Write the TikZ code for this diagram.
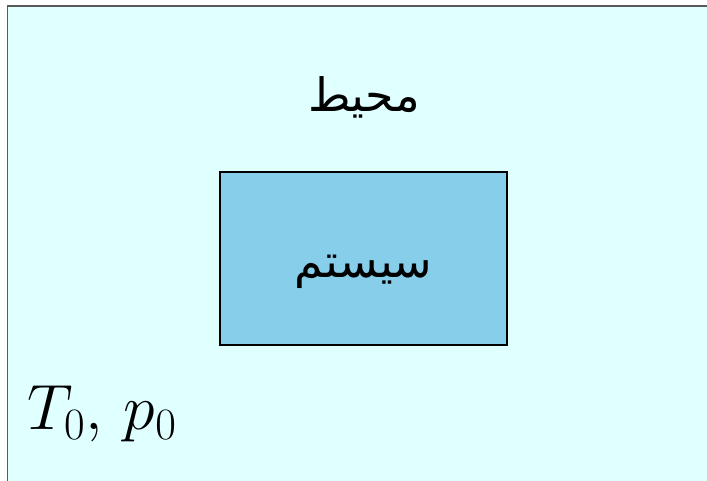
\documentclass[tikz,border=0pt]{standalone}
\usepackage{fix-cm}
\usepackage{amsmath,amssymb}
\usepackage{fontspec}
\newfontfamily\arabicfont[Script=Arabic]{DejaVu Sans}
\TeXXeTstate=1
\usepackage{tikz}
\usetikzlibrary{positioning}
\definecolor{envcol}{HTML}{E0FFFF}
\definecolor{syscol}{HTML}{87CEEB}

\begin{document}
\begin{tikzpicture}[
            x=1pt, y=-1pt,
            envbox/.style={draw=black!65, fill=envcol, line width=1.2pt},
            sysbox/.style={draw=black, fill=syscol, line width=1.6pt},
            fa/.style={font=\arabicfont\fontsize{46}{50}\selectfont, inner sep=0pt},
            lbl/.style={font=\fontsize{64}{68}\selectfont, inner sep=0pt}
        ]
        \useasboundingbox (0,0) rectangle (707,480);
        % Surroundings
        \filldraw[envbox] (7.5,6) rectangle (740,520);
        \node[fa] (env) at (364,97) {\beginR محیط\endR};

        % System
        \node[sysbox, minimum width=287pt, minimum height=173pt] (sys) at (363.5,258.5) {};
        \node[fa, below=-4pt of sys.center] (syslbl) {\beginR سیستم\endR};

        % Ambient state
        \node[lbl] (amb) at (102,414) {$T_0,\,p_0$};
    \end{tikzpicture}
\end{document}
